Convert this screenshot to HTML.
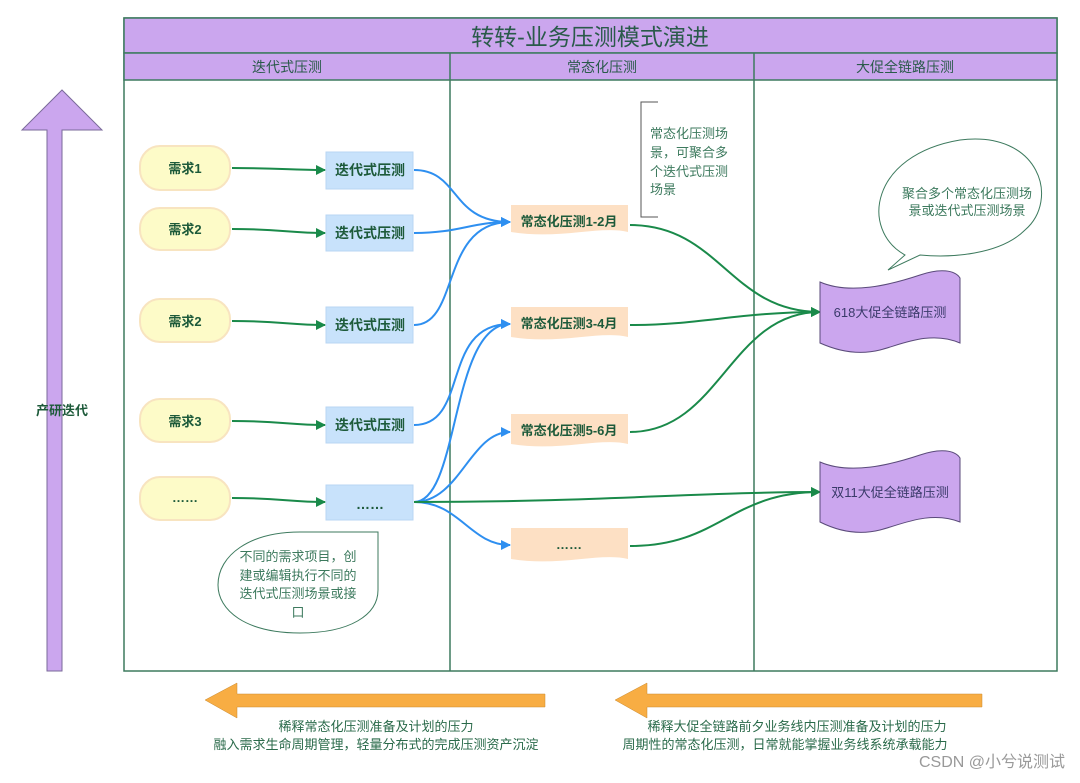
<!DOCTYPE html>
<html><head><meta charset="utf-8"><style>
html,body{margin:0;padding:0;background:#fff;}
body{width:1080px;height:778px;overflow:hidden;position:relative;font-family:"Liberation Sans","Noto Sans CJK SC",sans-serif;}
svg text{font-family:"Liberation Sans","Noto Sans CJK SC",sans-serif;}
</style></head><body>
<svg width="1080" height="778" viewBox="0 0 1080 778" xmlns="http://www.w3.org/2000/svg">
<defs>
<marker id="ag" markerWidth="10" markerHeight="10" refX="9" refY="5" orient="auto" markerUnits="userSpaceOnUse"><path d="M0,0 L10,5 L0,10 z" fill="#1a8a4a"/></marker>
<marker id="ab" markerWidth="10" markerHeight="10" refX="9" refY="5" orient="auto" markerUnits="userSpaceOnUse"><path d="M0,0 L10,5 L0,10 z" fill="#2e8ff0"/></marker>
</defs>
<!-- frame -->
<rect x="124" y="18" width="933" height="653" fill="#fff" stroke="#3d7a5e" stroke-width="1.5"/>
<rect x="124" y="18" width="933" height="35" fill="#cba6ee" stroke="#3d7a5e" stroke-width="1.5"/>
<rect x="124" y="53" width="933" height="27" fill="#cba6ee" stroke="#3d7a5e" stroke-width="1.5"/>
<line x1="450" y1="53" x2="450" y2="671" stroke="#3d7a5e" stroke-width="1.5"/>
<line x1="754" y1="53" x2="754" y2="671" stroke="#3d7a5e" stroke-width="1.5"/>
<text x="590" y="45" font-size="23" fill="#2a5a4a" text-anchor="middle">转转-业务压测模式演进</text>
<text x="287" y="72" font-size="14" fill="#2a5a4a" text-anchor="middle">迭代式压测</text>
<text x="602" y="72" font-size="14" fill="#2a5a4a" text-anchor="middle">常态化压测</text>
<text x="905" y="72" font-size="14" fill="#2a5a4a" text-anchor="middle">大促全链路压测</text>
<!-- left arrow -->
<path d="M47,671 L47,130 L22,130 L62,90 L102,130 L77,130 L77,130 L62,130 L62,671 Z" fill="#cba6ee" stroke="#7a6a9a" stroke-width="1"/>
<text x="62" y="415" font-size="13" font-weight="bold" fill="#1d5a3a" text-anchor="middle">产研迭代</text>
<!-- demand ovals -->
<g fill="#fdfbc8" stroke="#f8e4c0" stroke-width="2">
<rect x="140" y="146" width="90" height="44" rx="20"/>
<rect x="140" y="208" width="90" height="42" rx="20"/>
<rect x="140" y="299" width="90" height="43" rx="20"/>
<rect x="140" y="399" width="90" height="43" rx="20"/>
<rect x="140" y="477" width="90" height="43" rx="20"/>
</g>
<g font-size="13" font-weight="bold" fill="#1d5a3a" text-anchor="middle">
<text x="185" y="173">需求1</text><text x="185" y="234">需求2</text><text x="185" y="326">需求2</text><text x="185" y="426">需求3</text><text x="185" y="502">……</text>
</g>
<!-- iter boxes -->
<g fill="#c8e2fb" stroke="#b8d6f3">
<rect x="326" y="152" width="87" height="37"/>
<rect x="326" y="215" width="87" height="36"/>
<rect x="326" y="307" width="87" height="36"/>
<rect x="326" y="407" width="87" height="36"/>
<rect x="326" y="485" width="87" height="35"/>
</g>
<g font-size="14" font-weight="bold" fill="#1d5a3a" text-anchor="middle">
<text x="370" y="175">迭代式压测</text><text x="370" y="238">迭代式压测</text><text x="370" y="330">迭代式压测</text><text x="370" y="430">迭代式压测</text><text x="370" y="509">……</text>
</g>
<!-- green arrows demand->iter -->
<g stroke="#1a8a4a" stroke-width="2" fill="none" marker-end="url(#ag)">
<path d="M232,168 C280,168 290,170 325,170"/>
<path d="M232,229 C280,229 290,233 325,233"/>
<path d="M232,321 C280,321 290,325 325,325"/>
<path d="M232,421 C280,421 290,425 325,425"/>
<path d="M232,498 C280,498 290,502 325,502"/>
</g>
<!-- normalized docs -->
<g fill="#fde0c4">
<path d="M511,205 L628,205 L628,232 C600,225 560,240 511,232 Z"/>
<path d="M511,307 L628,307 L628,337 C600,330 560,345 511,337 Z"/>
<path d="M511,414 L628,414 L628,444 C600,437 560,452 511,444 Z"/>
<path d="M511,528 L628,528 L628,559 C600,552 560,567 511,559 Z"/>
</g>
<g font-size="13" font-weight="bold" fill="#1d5a3a" text-anchor="middle">
<text x="569" y="226">常态化压测1-2月</text><text x="569" y="328">常态化压测3-4月</text><text x="569" y="435">常态化压测5-6月</text><text x="569" y="549">……</text>
</g>
<!-- blue arrows -->
<g stroke="#2e8ff0" stroke-width="2" fill="none" marker-end="url(#ab)">
<path d="M414,170 C460,170 450,222 510,222"/>
<path d="M414,233 C460,233 470,222 510,222"/>
<path d="M414,325 C460,325 440,222 510,222"/>
<path d="M414,425 C470,425 440,324 510,324"/>
<path d="M414,502 C460,502 450,324 510,324"/>
<path d="M414,502 C460,502 470,432 510,432"/>
<path d="M414,502 C460,502 470,545 510,545"/>
</g>
<!-- green arrows to big promos -->
<g stroke="#1a8a4a" stroke-width="2" fill="none" marker-end="url(#ag)">
<path d="M630,225 C720,225 730,312 820,312"/>
<path d="M630,325 C700,325 740,312 820,312"/>
<path d="M630,432 C720,432 730,312 820,312"/>
<path d="M414,502 C600,502 700,492 820,492"/>
<path d="M630,546 C720,546 730,492 820,492"/>
</g>
<!-- big promo wavy shapes -->
<path d="M820,282 C850,295 890,285 920,275 C940,268 955,270 960,278 L960,343 C930,330 900,345 880,350 C860,355 840,352 820,343 Z" fill="#cba6ee" stroke="#5a4a7a" stroke-width="1"/>
<text x="890" y="317" font-size="13" fill="#3a3a6a" text-anchor="middle">618大促全链路压测</text>
<path d="M820,462 C850,475 890,465 920,455 C940,448 955,450 960,458 L960,522 C930,510 900,525 880,530 C860,535 840,532 820,522 Z" fill="#cba6ee" stroke="#5a4a7a" stroke-width="1"/>
<text x="890" y="497" font-size="13" fill="#3a3a6a" text-anchor="middle">双11大促全链路压测</text>
<!-- bracket note -->
<path d="M658,102 L641,102 L641,217 L658,217" fill="none" stroke="#555" stroke-width="1"/>
<g font-size="13" fill="#3d7a5e"><text x="650" y="138">常态化压测场</text><text x="650" y="157">景，可聚合多</text><text x="650" y="176">个迭代式压测</text><text x="650" y="194">场景</text></g>
<!-- speech bubble -->
<path d="M905,255 C860,230 870,155 960,140 C1040,130 1060,200 1025,230 C1000,255 950,258 920,255 L888,270 Z" fill="#fff" stroke="#3d7a5e" stroke-width="1"/>
<g font-size="13" fill="#3d7a5e" text-anchor="middle"><text x="967" y="198">聚合多个常态化压测场</text><text x="967" y="215">景或迭代式压测场景</text></g>
<!-- left bubble -->
<path d="M378,532 L378,590 C378,615 350,633 300,633 C245,633 218,610 218,585 C218,555 250,532 300,532 Z" fill="#fff" stroke="#3d7a5e" stroke-width="1"/>
<g font-size="13" fill="#3d7a5e" text-anchor="middle"><text x="298" y="561">不同的需求项目，创</text><text x="298" y="580">建或编辑执行不同的</text><text x="298" y="598">迭代式压测场景或接</text><text x="298" y="617">口</text></g>
<!-- bottom orange arrows -->
<path d="M545,694 L237,694 L237,683 L205,700 L237,718 L237,707 L545,707 Z" fill="#f8ad43" stroke="#c98a30" stroke-width="0.5"/>
<path d="M982,694 L647,694 L647,683 L615,700 L647,718 L647,707 L982,707 Z" fill="#f8ad43" stroke="#c98a30" stroke-width="0.5"/>
<g font-size="13" fill="#2a6a4a" text-anchor="middle">
<text x="376" y="731">稀释常态化压测准备及计划的压力</text>
<text x="376" y="749">融入需求生命周期管理，轻量分布式的完成压测资产沉淀</text>
<text x="797" y="731">稀释大促全链路前夕业务线内压测准备及计划的压力</text>
<text x="785" y="749">周期性的常态化压测，日常就能掌握业务线系统承载能力</text>
</g>
<text x="1065" y="767" font-size="16" fill="#999" text-anchor="end">CSDN @小兮说测试</text>
</svg>
</body></html>
